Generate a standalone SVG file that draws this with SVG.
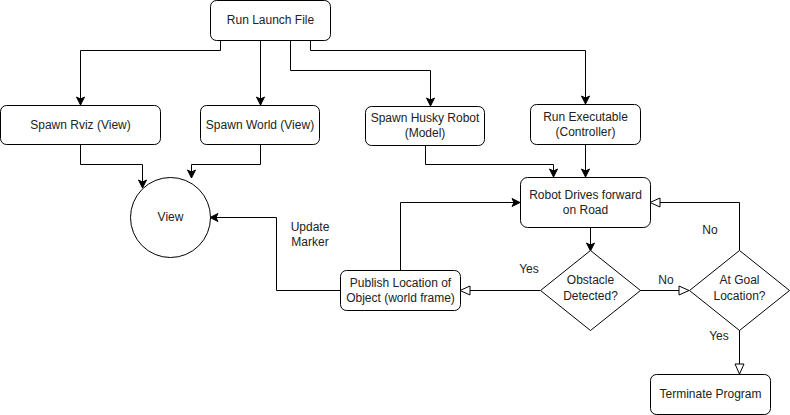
<svg xmlns="http://www.w3.org/2000/svg" width="790" height="415" viewBox="0 0 790 415">
<style>
.n{fill:#fff;stroke:#000;stroke-width:1}
.t{font-family:"Liberation Sans",Arial,sans-serif;font-size:12px;fill:#222;text-anchor:middle}
.e{fill:none;stroke:#000;stroke-width:1}
.f{marker-end:url(#af)}
.o{marker-end:url(#ao)}
</style>
<defs>
<marker id="af" markerUnits="userSpaceOnUse" markerWidth="10" markerHeight="10" viewBox="0 0 10 10" refX="9" refY="5" orient="auto">
<path d="M1,1 L9,5 L1,9 L3,5 z" fill="#000" stroke="#000" stroke-width="1"/>
</marker>
<marker id="ao" markerUnits="userSpaceOnUse" markerWidth="12" markerHeight="12" viewBox="0 0 12 12" refX="11" refY="6" orient="auto">
<path d="M1,1.5 L11,6 L1,10.5 z" fill="#fff" stroke="#000" stroke-width="1"/>
</marker>
</defs>
<rect width="790" height="415" fill="#fff"/>
<g id="connectors">
<path class="e f" d="M220.5,40 V50.5 H80.5 V105"/>
<path class="e f" d="M260.5,40 V105"/>
<path class="e f" d="M290.5,40 V70.5 H430.5 V106"/>
<path class="e f" d="M310.5,40 V50.5 H585.5 V104"/>
<path class="e f" d="M80.5,145 V164.5 H142.5 V188"/>
<path class="e f" d="M260.5,145 V164.5 H191.5 V178"/>
<path class="e f" d="M425.5,146 V164.5 H553.5 V177"/>
<path class="e f" d="M585.5,144 V177"/>
<path class="e f" d="M340,290.5 H276.5 V217.5 H210"/>
<path class="e f" d="M400.5,270 V202.5 H520"/>
<path class="e f" d="M590.5,227 V251"/>
<path class="e o" d="M540,290.5 H460"/>
<path class="e o" d="M640,290.5 H689"/>
<path class="e o" d="M739.5,250 V202.5 H650"/>
<path class="e o" d="M739.5,330 V374"/>
<text class="t" x="310" y="231">Update</text>
<text class="t" x="310" y="246">Marker</text>
<text class="t" x="529" y="273">Yes</text>
<text class="t" x="666" y="284">No</text>
<text class="t" x="710" y="234">No</text>
<text class="t" x="719" y="340">Yes</text>
</g>
<g id="launch"><rect class="n" x="210.5" y="0.5" width="120" height="40" rx="6"/><text class="t" x="270.5" y="24">Run Launch File</text></g>
<g id="rviz"><rect class="n" x="0.5" y="105.5" width="160" height="39" rx="6"/><text class="t" x="80.5" y="129">Spawn Rviz (View)</text></g>
<g id="world"><rect class="n" x="200.5" y="105.5" width="119" height="39" rx="6"/><text class="t" x="260" y="129">Spawn World (View)</text></g>
<g id="husky"><rect class="n" x="365.5" y="106.5" width="119" height="39" rx="6"/><text class="t" x="425" y="122">Spawn Husky Robot</text><text class="t" x="425" y="137">(Model)</text></g>
<g id="exec"><rect class="n" x="530.5" y="104.5" width="110" height="40" rx="6"/><text class="t" x="585.5" y="121">Run Executable</text><text class="t" x="585.5" y="136">(Controller)</text></g>
<g id="drive"><rect class="n" x="520.5" y="177.5" width="130" height="50" rx="7"/><text class="t" x="585.5" y="199">Robot Drives forward</text><text class="t" x="585.5" y="214">on Road</text></g>
<g id="view"><circle class="n" cx="170.5" cy="217.5" r="40"/><text class="t" x="170.5" y="221">View</text></g>
<g id="publish"><rect class="n" x="340.5" y="270.5" width="120" height="40" rx="6"/><text class="t" x="400.5" y="287">Publish Location of</text><text class="t" x="400.5" y="302">Object (world frame)</text></g>
<g id="obstacle"><polygon class="n" points="540.5,290.5 590.5,250.5 640.5,290.5 590.5,330.5"/><text class="t" x="590.5" y="284">Obstacle</text><text class="t" x="590.5" y="300">Detected?</text></g>
<g id="goal"><polygon class="n" points="689.5,290.5 739.5,250.5 789.5,290.5 739.5,330.5"/><text class="t" x="739.5" y="284">At Goal</text><text class="t" x="739.5" y="300">Location?</text></g>
<g id="terminate"><rect class="n" x="650.5" y="374.5" width="120" height="40" rx="6"/><text class="t" x="710.5" y="398">Terminate Program</text></g>
</svg>
